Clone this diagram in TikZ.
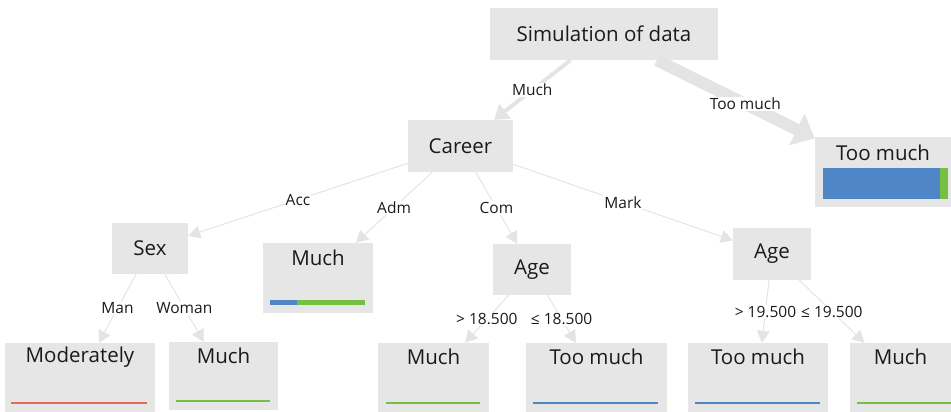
\documentclass[tikz,border=0pt]{standalone}
\usepackage{fontspec}
\setmainfont{Open Sans}
\usetikzlibrary{arrows.meta}

\definecolor{boxgray}{HTML}{E6E6E6}
\definecolor{edgegray}{HTML}{E4E4E4}
\definecolor{barblue}{HTML}{4F86C6}
\definecolor{bargreen}{HTML}{74BF44}
\definecolor{barred}{HTML}{E8685A}
\definecolor{txtdark}{HTML}{1A1A1A}

\tikzset{
	box/.style={fill=boxgray,inner sep=0pt},
	txt/.style={inner sep=0pt,text=txtdark,font=\fontsize{20.5}{24}\selectfont},
	edge/.style={draw=edgegray,line width=1pt,-{Triangle[length=12pt,width=13pt]}},
	elabel/.style={fill=white,inner sep=1pt,text=txtdark,font=\fontsize{15.5}{18}\selectfont},
	leafbar/.style={line width=2.5pt}
}

\begin{document}
\begin{tikzpicture}[x=1pt,y=-1pt]
		\useasboundingbox (0,0) rectangle (951,412);
		% inner boxes
		\node[box,minimum width=228pt,minimum height=52pt] (sim) at (604,34) {};
		\node[box,minimum width=105pt,minimum height=52pt] (career) at (460.5,146) {};
		\node[box,minimum width=76pt,minimum height=51pt] (sex) at (150,248.5) {};
		\node[box,minimum width=78pt,minimum height=51pt] (agecom) at (532,269.5) {};
		\node[box,minimum width=78pt,minimum height=52pt] (agemark) at (772,254) {};
		\node[txt] (sim-t) at (sim) {Simulation of data};
		\node[txt] (career-t) at (career) {Career};
		\node[txt] (sex-t) at (sex) {Sex};
		\node[txt] (agecom-t) at (agecom) {Age};
		\node[txt] (agemark-t) at (agemark) {Age};
		% leaves
		\node[box,minimum width=136pt,minimum height=70pt] (toomuch) at (883,172) {};
		\node[box,minimum width=110pt,minimum height=70pt] (adm) at (318,278) {};
		\node[box,minimum width=150pt,minimum height=69pt] (man) at (80,377.5) {};
		\node[box,minimum width=109pt,minimum height=68pt] (woman) at (223.5,376) {};
		\node[box,minimum width=111pt,minimum height=69pt] (over18) at (433.5,377.5) {};
		\node[box,minimum width=141pt,minimum height=69pt] (under18) at (596.5,377.5) {};
		\node[box,minimum width=140pt,minimum height=69pt] (over19) at (758,377.5) {};
		\node[box,minimum width=101pt,minimum height=69pt] (under19) at (900.5,377.5) {};
		\node[txt] (toomuch-t) at ([yshift=-16pt]toomuch.north) {Too much};
		\node[txt] (adm-t) at ([yshift=-15pt]adm.north) {Much};
		\node[txt] (man-t) at ([yshift=-14pt]man.north) {Moderately};
		\node[txt] (woman-t) at ([yshift=-14pt]woman.north) {Much};
		\node[txt] (over18-t) at ([yshift=-14pt]over18.north) {Much};
		\node[txt] (under18-t) at ([yshift=-14pt]under18.north) {Too much};
		\node[txt] (over19-t) at ([yshift=-14pt]over19.north) {Too much};
		\node[txt] (under19-t) at ([yshift=-14pt]under19.north) {Much};
		% bars
		\fill[barblue] (823,168) rectangle (940,199);
		\fill[bargreen] (940,168) rectangle (948,199);
		\fill[barblue] (270,300) rectangle (297,305);
		\fill[bargreen] (297,300) rectangle (365,305);
		\draw[leafbar,barred] ([shift={(6pt,9pt)}]man.south west) -- ([shift={(-8pt,9pt)}]man.south east);
		\draw[leafbar,bargreen] ([shift={(7pt,9pt)}]woman.south west) -- ([shift={(-8pt,9pt)}]woman.south east);
		\draw[leafbar,bargreen] ([shift={(8pt,9pt)}]over18.south west) -- ([shift={(-9pt,9pt)}]over18.south east);
		\draw[leafbar,barblue] ([shift={(7pt,9pt)}]under18.south west) -- ([shift={(-9pt,9pt)}]under18.south east);
		\draw[leafbar,barblue] ([shift={(7pt,9pt)}]over19.south west) -- ([shift={(-8pt,9pt)}]over19.south east);
		\draw[leafbar,bargreen] ([shift={(7pt,9pt)}]under19.south west) -- ([shift={(0pt,9pt)}]under19.south east);
		% edges
		\draw[edge,line width=4pt,-{Triangle[length=14pt,width=18pt]}] (sim) -- node[elabel] (l-much) {Much} (career);
		\draw[edge,line width=12pt,-{Triangle[length=20pt,width=34pt]}] (sim) -- node[elabel,pos=0.56] (l-toomuch) {Too much} (toomuch);
		\draw[edge] (career) -- node[elabel] (l-acc) {Acc} (sex);
		\draw[edge] (career) -- node[elabel] (l-adm) {Adm} (adm);
		\draw[edge] (career) -- node[elabel] (l-com) {Com} (agecom);
		\draw[edge] (career) -- node[elabel] (l-mark) {Mark} (agemark);
		\draw[edge] (sex) -- node[elabel] (l-man) {Man} (man);
		\draw[edge] (sex) -- node[elabel] (l-woman) {Woman} (woman);
		\draw[edge] (agecom) -- node[elabel] (l-gt18) {> 18.500} (over18);
		\draw[edge] (agecom) -- node[elabel] (l-le18) {≤ 18.500} (under18);
		\draw[edge] (agemark) -- node[elabel] (l-gt19) {> 19.500} (over19);
		\draw[edge] (agemark) -- node[elabel] (l-le19) {≤ 19.500} (under19);
\end{tikzpicture}
\end{document}
